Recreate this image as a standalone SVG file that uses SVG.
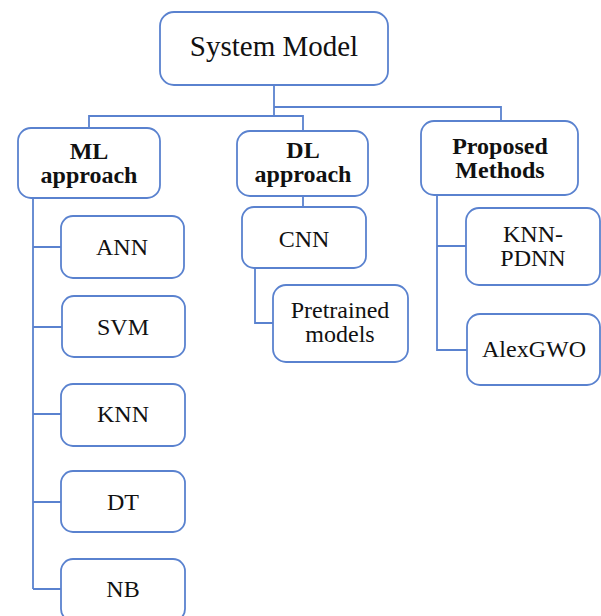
<svg xmlns="http://www.w3.org/2000/svg" width="601" height="616" viewBox="0 0 601 616">
<style>
.nodebox{fill:#fff;stroke:#5a82cf;stroke-width:1.8}
.conn{fill:none;stroke:#5a82cf;stroke-width:1.8}
.lbl{font-family:'Liberation Serif','Times New Roman',serif;font-size:24px;fill:#111;text-anchor:middle}
.bold{font-weight:bold}
.title{font-size:29px}
</style>
<rect width="601" height="616" fill="#fff"/>
<g id="connectors">
<path class="conn" d="M274 85 V116"/>
<path class="conn" d="M274 107 H501 V121"/>
<path class="conn" d="M89 128 V116 H303 V131"/>
<path class="conn" d="M33 198 V589"/>
<path class="conn" d="M33 247 H61 M33 327 H62 M33 414 H61 M33 502 H61 M33 589 H61"/>
<path class="conn" d="M303 196 V207"/>
<path class="conn" d="M255 268 V323 H273"/>
<path class="conn" d="M437 195 V350 H467 M437 246 H466"/>
</g>
<g id="system-model">
<rect class="nodebox" x="160" y="12" width="228" height="73" rx="14"/>
<text class="lbl title" x="274" y="56">System Model</text>
</g>
<g id="ml-approach">
<rect class="nodebox" x="18" y="128" width="142" height="70" rx="13"/>
<text class="lbl bold" x="89" y="159">ML</text>
<text class="lbl bold" x="89" y="183">approach</text>
</g>
<g id="dl-approach">
<rect class="nodebox" x="237" y="131" width="131" height="65" rx="13"/>
<text class="lbl bold" x="303" y="158">DL</text>
<text class="lbl bold" x="303" y="182">approach</text>
</g>
<g id="proposed-methods">
<rect class="nodebox" x="421" y="121" width="157" height="74" rx="13"/>
<text class="lbl bold" x="500" y="154">Proposed</text>
<text class="lbl bold" x="500" y="178">Methods</text>
</g>
<g id="ann">
<rect class="nodebox" x="61" y="216" width="123" height="62" rx="12"/>
<text class="lbl" x="122" y="255">ANN</text>
</g>
<g id="svm">
<rect class="nodebox" x="62" y="296" width="123" height="61" rx="12"/>
<text class="lbl" x="123" y="335">SVM</text>
</g>
<g id="knn">
<rect class="nodebox" x="61" y="384" width="124" height="62" rx="12"/>
<text class="lbl" x="123" y="422">KNN</text>
</g>
<g id="dt">
<rect class="nodebox" x="61" y="471" width="124" height="61" rx="12"/>
<text class="lbl" x="123" y="510">DT</text>
</g>
<g id="nb">
<rect class="nodebox" x="61" y="559" width="124" height="62" rx="12"/>
<text class="lbl" x="123" y="597">NB</text>
</g>
<g id="cnn">
<rect class="nodebox" x="242" y="207" width="124" height="61" rx="12"/>
<text class="lbl" x="304" y="247">CNN</text>
</g>
<g id="pretrained-models">
<rect class="nodebox" x="273" y="285" width="135" height="77" rx="13"/>
<text class="lbl" x="340" y="318">Pretrained</text>
<text class="lbl" x="340" y="342">models</text>
</g>
<g id="knn-pdnn">
<rect class="nodebox" x="466" y="208" width="134" height="77" rx="13"/>
<text class="lbl" x="533" y="242">KNN-</text>
<text class="lbl" x="533" y="266">PDNN</text>
</g>
<g id="alexgwo">
<rect class="nodebox" x="467" y="314" width="133" height="71" rx="13"/>
<text class="lbl" x="534" y="357">AlexGWO</text>
</g>
</svg>
